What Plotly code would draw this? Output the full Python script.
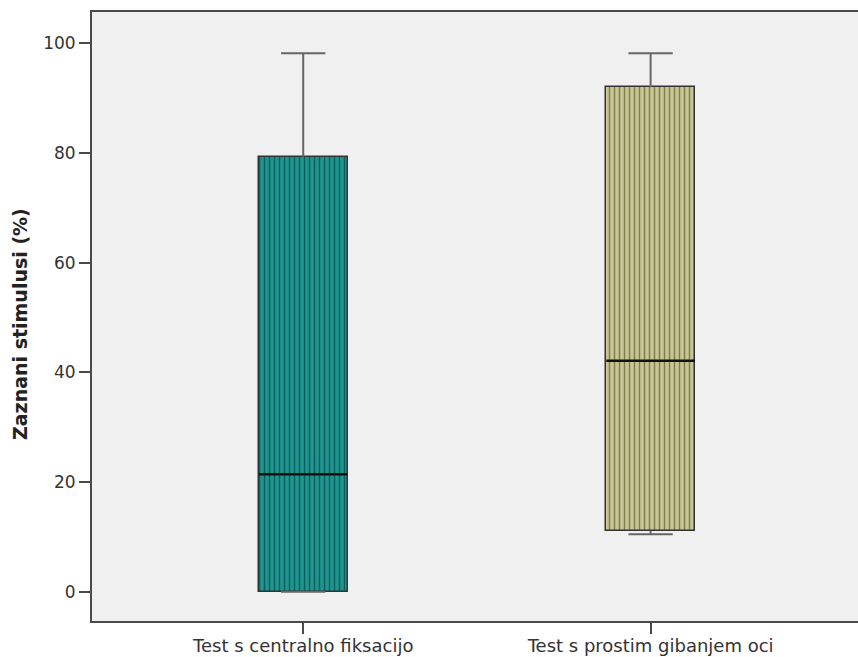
import plotly.graph_objects as go

# Summary statistics for each test (percent of detected stimuli)
categories = ["Test s centralno fiksacijo", "Test s prostim gibanjem oci"]
lower_whisker = [0.0, 10.5]
q1 = [0.0, 11.1]
median = [21.4, 42.1]
q3 = [79.3, 92.0]
upper_whisker = [98.2, 98.2]

y_ticks = [0, 20, 40, 60, 80, 100]
y_title = "Zaznani stimulusi (%)"

fill_colors = ["#1e9690", "#c9c594"]
stripe_colors = ["#0c5f5c", "#7f7f55"]

box_width = 0.255
cap_half = box_width / 4
edge_color = "#4a4a4a"
x_range = [-0.608, 1.597]

xs = list(range(len(categories)))

fig = go.Figure()

# Boxes (Q1..Q3) with vertical stripe pattern
for i in xs:
    fig.add_trace(go.Bar(
        x=[i], y=[q3[i] - q1[i]], base=[q1[i]], width=box_width,
        marker=dict(
            color=fill_colors[i],
            line=dict(color="#333333", width=1.5),
            pattern=dict(shape="|", fillmode="replace", bgcolor=fill_colors[i],
                         fgcolor=stripe_colors[i], size=5, solidity=0.3),
        ),
        showlegend=False, hoverinfo="skip",
    ))

# Whiskers and caps
for i in xs:
    wx = [i, i, None, i - cap_half, i + cap_half, None,
          i, i, None, i - cap_half, i + cap_half]
    wy = [q3[i], upper_whisker[i], None, upper_whisker[i], upper_whisker[i], None,
          q1[i], lower_whisker[i], None, lower_whisker[i], lower_whisker[i]]
    fig.add_trace(go.Scatter(
        x=wx, y=wy, mode="lines", line=dict(color="#666666", width=2),
        showlegend=False, hoverinfo="skip",
    ))

# Medians
for i in xs:
    fig.add_trace(go.Scatter(
        x=[i - box_width / 2, i + box_width / 2], y=[median[i], median[i]],
        mode="lines", line=dict(color="#111111", width=2.5),
        showlegend=False, hoverinfo="skip",
    ))

fig.update_layout(
    width=858, height=657,
    margin=dict(l=92, r=0, t=12, b=36),
    paper_bgcolor="white",
    plot_bgcolor="#f0f0f0",
    bargap=0,
    font=dict(family="DejaVu Sans, sans-serif", color="#333333"),
    xaxis=dict(
        range=x_range, automargin=False,
        tickmode="array", tickvals=xs, ticktext=categories,
        ticks="outside", ticklen=11, tickwidth=2, tickcolor=edge_color,
        ticklabelstandoff=-4,
        tickfont=dict(size=18, color="#333333"),
        showline=True, linecolor=edge_color, linewidth=2, mirror=True,
        showgrid=False, zeroline=False,
    ),
    yaxis=dict(
        range=[-5.34, 105.7], automargin=False,
        tickmode="array", tickvals=y_ticks,
        ticks="outside", ticklen=11, tickwidth=2, tickcolor=edge_color,
        tickfont=dict(size=17, color="#333333"),
        showline=True, linecolor=edge_color, linewidth=2, mirror=False,
        showgrid=False, zeroline=False,
    ),
    annotations=[dict(
        text="<b>" + y_title + "</b>", textangle=-90,
        xref="paper", yref="paper", x=-0.094, y=0.4877,
        xanchor="center", yanchor="middle", showarrow=False,
        font=dict(size=19, color="#222222"),
    )],
)

fig.write_html("out.html")
